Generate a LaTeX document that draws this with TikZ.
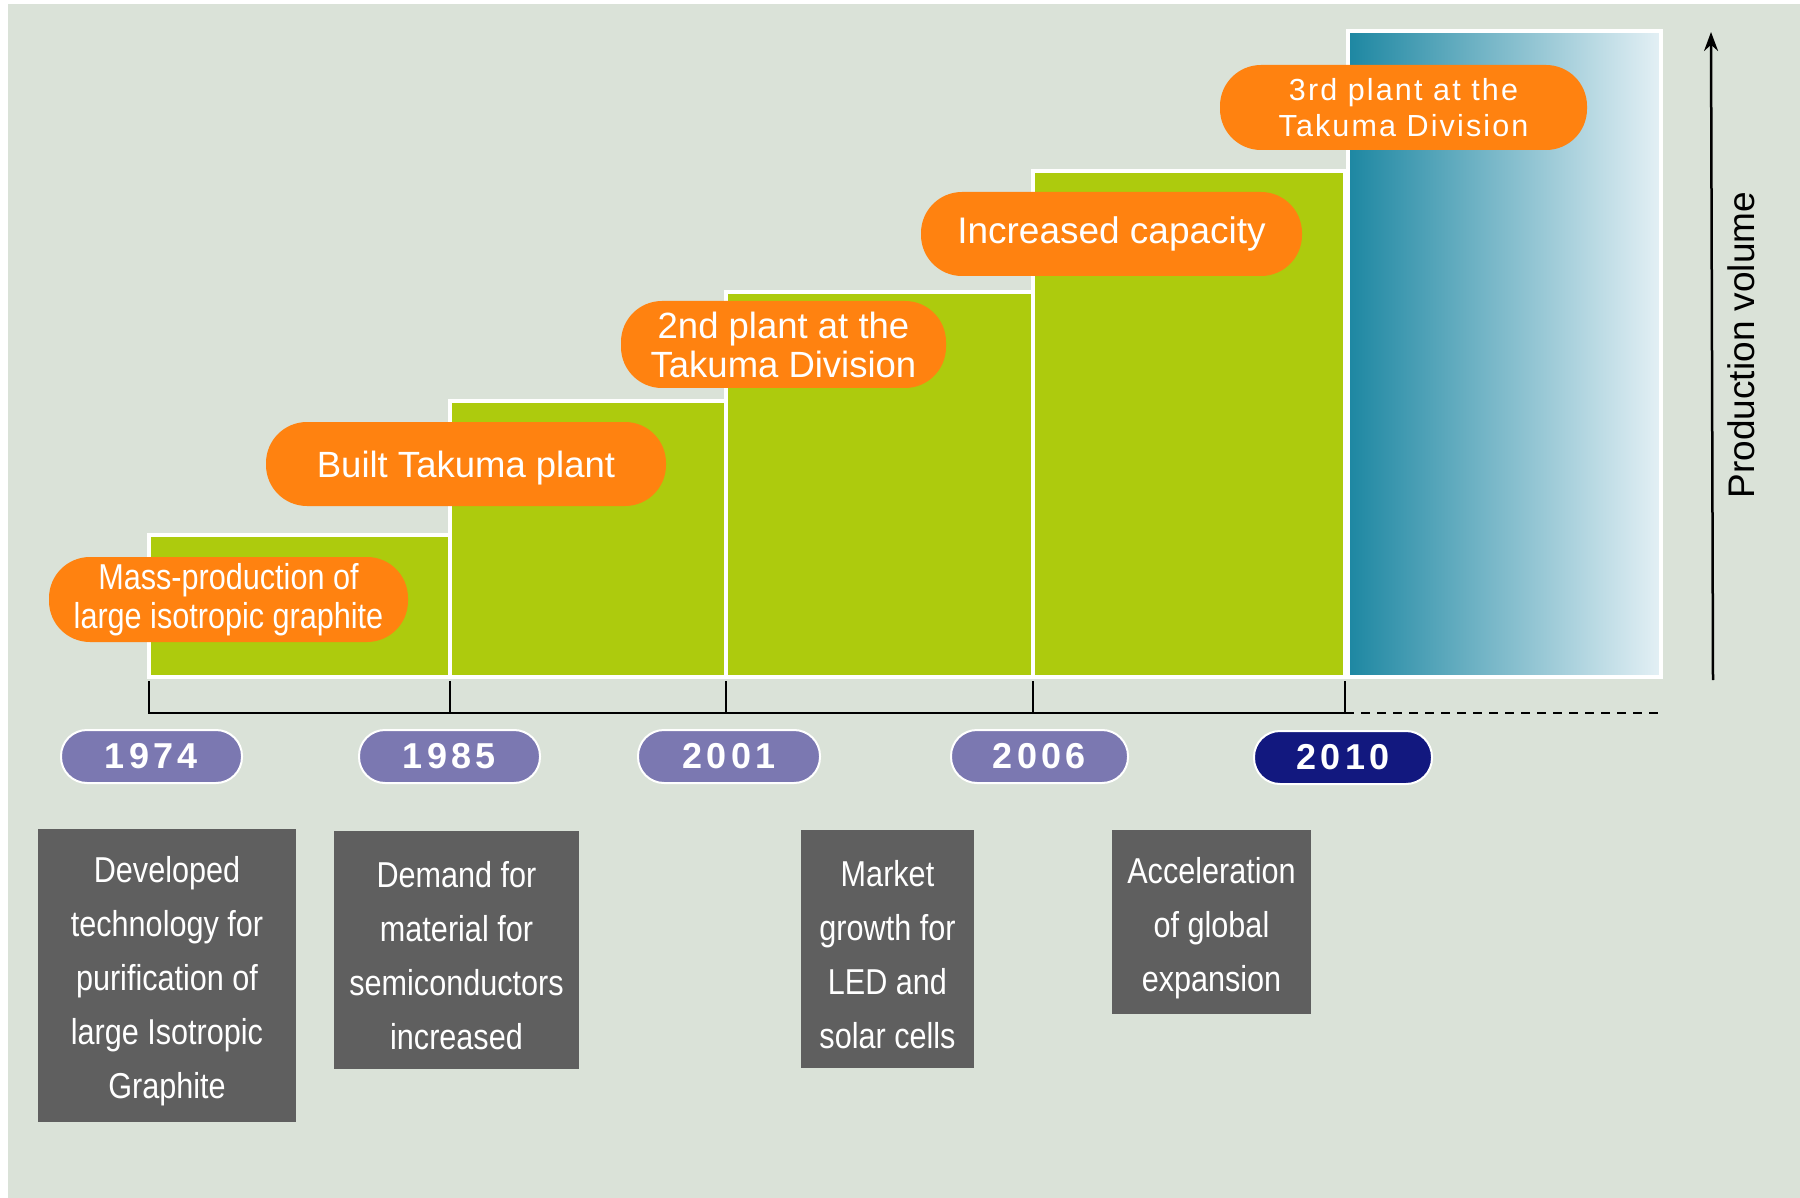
\documentclass[tikz,border=0pt]{standalone}
\usepackage{fontspec}
\setmainfont{Liberation Sans}
\newfontfamily\narrowfont[FakeStretch=0.85]{Liberation Sans}
\newfontfamily\yearfont[LetterSpace=12]{Liberation Sans}
\newfontfamily\spacedfont[LetterSpace=7]{Liberation Sans}
\usetikzlibrary{arrows.meta}
\definecolor{bg}{HTML}{DAE2D8}
\definecolor{grn}{HTML}{ADCB0D}
\definecolor{org}{HTML}{FF8210}
\definecolor{purp}{HTML}{7B78B1}
\definecolor{navy}{HTML}{12187F}
\definecolor{gbox}{HTML}{5F5F5F}
\definecolor{tealL}{HTML}{1D87A2}
\definecolor{tealM}{HTML}{B2CDD7}
\definecolor{tealR}{HTML}{E4F0F5}
\begin{document}
\begin{tikzpicture}[x=1pt,y=-1pt,
  stepbar/.style={fill=grn,draw=white,line width=4pt},
  pill/.style={fill=org,text=white,rounded corners=41pt,inner sep=0pt,align=center},
  yearpill/.style={fill=purp,draw=white,line width=2pt,text=white,rounded corners=26pt,
     inner sep=0pt,minimum height=53pt,font=\yearfont\bfseries\fontsize{36}{38}\selectfont},
  graybox/.style={fill=gbox,inner sep=0pt},
  graytext/.style={text=white,inner sep=0pt,align=center,yshift=-6pt,
     font=\narrowfont\fontsize{36}{54}\selectfont},
  axisline/.style={line width=2.5pt,black}]
\useasboundingbox (0,0) rectangle (1800,1198);
\fill[white] (0,0) rectangle (1800,1198);
\fill[bg] (8,4) rectangle (1800,1198);

% production steps
\draw[stepbar] (149,535) rectangle (450,677);
\draw[stepbar] (450,401) rectangle (726,677);
\draw[stepbar] (726,292) rectangle (1033,677);
\draw[stepbar] (1033,171) rectangle (1345,677);
\shade[left color=tealL,middle color=tealM,right color=tealR] (1348,31) rectangle (1661,677);
\draw[white,line width=4pt] (1348,31) rectangle (1661,677);

% time axis
\coordinate (t0) at (149,681);
\coordinate (t1) at (450,681);
\coordinate (t2) at (726,681);
\coordinate (t3) at (1033,681);
\coordinate (t4) at (1345,681);
\coordinate (b0) at (149,713);
\coordinate (b1) at (450,713);
\coordinate (b2) at (726,713);
\coordinate (b3) at (1033,713);
\coordinate (b4) at (1345,713);
\coordinate (bend) at (1665,713);
\draw[axisline] (t0) -- (b0) -- (b4) -- (t4);
\draw[axisline] (t1) -- (b1);
\draw[axisline] (t2) -- (b2);
\draw[axisline] (t3) -- (b3);
\draw[axisline,dash pattern=on 9pt off 7pt] (b4) -- (bend);

% production volume arrow
\coordinate (ya) at (1713,680);
\coordinate (yb) at (1711,32);
\draw[line width=2.5pt,-{Stealth[length=19pt,width=14pt]}] (ya) -- (yb);
\node[rotate=90,font=\fontsize{37}{40}\selectfont] (pv) at (1741,345) {Production volume};

% orange milestone pills
\node[pill,minimum width=359pt,minimum height=85pt,font=\narrowfont\fontsize{36}{39}\selectfont]
  (p1) at (228.5,599.5) {Mass-production of\\large isotropic graphite};
\node[pill,minimum width=400pt,minimum height=84pt,font=\fontsize{36.5}{40}\selectfont,
  text depth=0pt] (p2) at (466,464) {Built Takuma plant};
\node[pill,minimum width=325pt,minimum height=87pt,font=\fontsize{36.5}{39}\selectfont]
  (p3) at (783.5,344.5) {2nd plant at the\\Takuma Division};
\node[pill,minimum width=381pt,minimum height=84pt,font=\fontsize{37}{40}\selectfont]
  (p4) at (1111.5,234) {Increased capacity};
\node[pill,minimum width=367pt,minimum height=85pt,font=\spacedfont\fontsize{30.5}{36}\selectfont]
  (p5) at (1403.5,107.5) {3rd plant at the\\Takuma Division};

% year pills
\node[yearpill,minimum width=181pt] (y1) at (151.5,756.5) {1974};
\node[yearpill,minimum width=181pt] (y2) at (449.5,756.5) {1985};
\node[yearpill,minimum width=182pt] (y3) at (729,756.5) {2001};
\node[yearpill,minimum width=177pt] (y4) at (1039.5,756.5) {2006};
\node[yearpill,fill=navy,minimum width=178pt] (y5) at (1343,757.5) {2010};

% background notes
\node[graybox,minimum width=258pt,minimum height=293pt] (g1) at (167,975.5) {};
\node[graybox,minimum width=245pt,minimum height=238pt] (g2) at (456.5,950) {};
\node[graybox,minimum width=173pt,minimum height=238pt] (g3) at (887.5,949) {};
\node[graybox,minimum width=199pt,minimum height=184pt] (g4) at (1211.5,922) {};
\node[graytext] (g1t) at (g1.center)
  {Developed\\technology for\\purification of\\large Isotropic\\Graphite};
\node[graytext] (g2t) at (g2.center)
  {Demand for\\material for\\semiconductors\\increased};
\node[graytext] (g3t) at (g3.center)
  {Market\\growth for\\LED and\\solar cells};
\node[graytext] (g4t) at (g4.center)
  {Acceleration\\of global\\expansion};
\end{tikzpicture}
\end{document}
